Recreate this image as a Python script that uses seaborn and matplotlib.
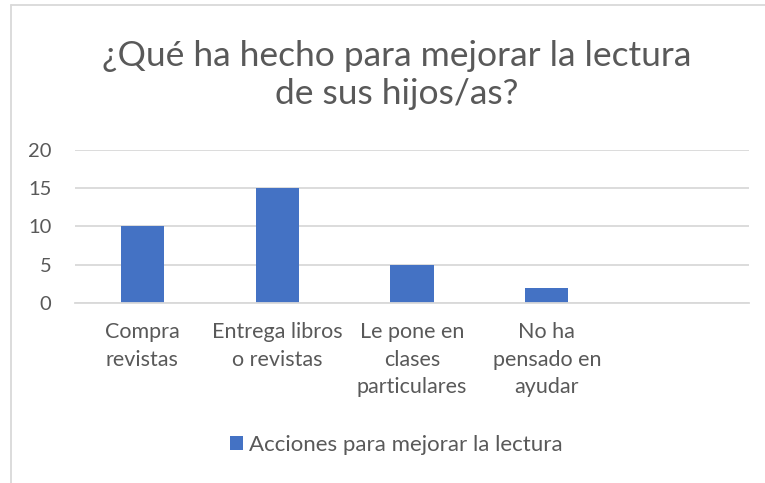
import numpy as np
import pandas as pd
import matplotlib.pyplot as plt
import seaborn as sns

categories = ["Compra\nrevistas", "Entrega libros\no revistas",
              "Le pone en\nclases\nparticulares", "No ha\npensado en\nayudar", " "]
values = [10, 15, 5, 2, np.nan]
series_name = "Acciones para mejorar la lectura"
title = "¿Qué ha hecho para mejorar la lectura\nde sus hijos/as?"
y_ticks = [0, 5, 10, 15, 20]

BAR = "#4472C4"
TEXT = "#595959"
GRID = "#D9D9D9"

sns.set_theme(style="white")
plt.rcParams["font.family"] = ["Lato", "DejaVu Sans"]

df = pd.DataFrame({"cat": categories, "val": values})

fig = plt.figure(figsize=(7.65, 4.83), dpi=100)
ax = fig.add_axes([75 / 765, 1 - 303 / 483, (749 - 75) / 765, (303 - 150) / 483])

sns.barplot(data=df, x="cat", y="val", order=categories, color=BAR,
            width=0.32, linewidth=0, saturation=1, label=series_name, ax=ax)

ax.set_ylim(0, 20)
ax.set_xlim(-0.5, len(categories) - 0.5)
ax.set_yticks(y_ticks)
ax.yaxis.grid(True, color=GRID, linewidth=1.3)
ax.set_axisbelow(True)
for s in ["top", "right", "left"]:
    ax.spines[s].set_visible(False)
ax.spines["bottom"].set_color(GRID)
ax.spines["bottom"].set_linewidth(1.3)
ax.tick_params(axis="x", length=0, labelsize=15.5, colors=TEXT, pad=14)
ax.tick_params(axis="y", length=0, labelsize=14.5, colors=TEXT, pad=17)
for lbl in ax.get_xticklabels():
    lbl.set_linespacing(1.45)
ax.set_xlabel("")
ax.set_ylabel("")

fig.text(0.518, 1 - 75 / 483, title, ha="center", va="center",
         fontsize=25.5, color=TEXT, linespacing=1.25)

ax.legend(loc="center", bbox_to_anchor=(0.5 - 16 / 674, -(445 - 303) / 153),
          frameon=False, fontsize=16, labelcolor=TEXT,
          handlelength=0.6, handleheight=0.6, handletextpad=0.25)

# chart border (left and top visible)
fig.add_artist(plt.Line2D([11 / 765, 11 / 765], [0, 1 - 5 / 483], color=GRID, lw=1.3))
fig.add_artist(plt.Line2D([11 / 765, 1], [1 - 5 / 483, 1 - 5 / 483], color=GRID, lw=1.3))

fig.savefig("out.png", dpi=100)
